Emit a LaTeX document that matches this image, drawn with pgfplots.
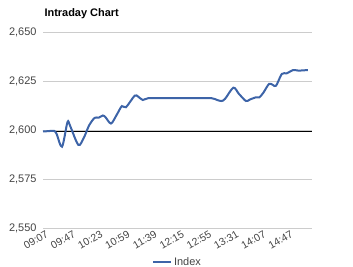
\documentclass[border=0pt]{standalone}
\usepackage{pgfplots}
\pgfplotsset{compat=1.18}
\usepackage{fontspec}
\setmainfont{Liberation Sans}
\definecolor{lineblue}{HTML}{3D64A8}
\definecolor{gridgray}{HTML}{CCCCCC}
\definecolor{ticktext}{HTML}{444444}
\begin{document}
\begin{tikzpicture}
\path[use as bounding box] (0,0) rectangle (353bp,267bp);
\begin{axis}[
  at={(43bp,39bp)}, anchor=south west,
  scale only axis, width=269bp, height=196bp,
  xmin=0, xmax=98.9, ymin=2550, ymax=2650,
  axis line style={draw=none},
  tick style={draw=none},
  ytick={2550,2575,2600,2625,2650},
  ymajorgrids, grid style={gridgray, line width=0.8pt},
  xtick={0,10,...,90},
  xticklabels={09:07,09:47,10:23,10:59,11:39,12:15,12:55,13:31,14:07,14:47},
  /pgf/number format/assume math mode=true,
  /pgf/number format/1000 sep={,},
  scaled y ticks=false,
  ticklabel style={font=\fontsize{11}{13}\selectfont, text=ticktext},
  yticklabel style={xshift=-3bp},
  xticklabel style={rotate=30, anchor=north east, inner sep=1pt, yshift=-2bp, xshift=2bp, font=\fontsize{10.5}{12}\selectfont},
  title={\textbf{Intraday Chart}},
  title style={at={(axis description cs:0,1)}, anchor=base west, yshift=10bp, xshift=-2bp, font=\fontsize{11}{13}\selectfont},
  legend style={at={(axis description cs:0.5,0)}, anchor=center, yshift=-34bp, draw=none, fill=none, font=\fontsize{11}{13}\selectfont, text=ticktext},
  legend image code/.code={\draw[#1] (0bp,0bp) -- (18bp,0bp);},
  clip=false,
]
\addplot[black, line width=0.9pt, forget plot] coordinates {(0,2599.4) (98.9,2599.4)};
\addplot[lineblue, line width=2bp, smooth, tension=0.5] coordinates {
(0,2599.3) (2,2599.4) (4,2599.6) (5,2598) (7,2591.5) (9,2604) (10,2602)
(13,2592.4) (15,2596) (17,2602.5) (19,2606.2) (20.5,2606.3) (22,2607.4)
(23,2606.5) (25,2603.3) (27,2607.5) (29,2612.2) (30.5,2611.6) (33.7,2617.5)
(35,2617) (36.7,2615.3) (38.6,2616.2) (45,2616.2) (55,2616.2) (62,2616.2)
(64,2615.3) (65.7,2614.8) (67,2616) (70,2621.6) (72,2618.5) (74.6,2614.8)
(76,2615.5) (78.3,2616.7) (79.5,2616.6) (81,2619) (83.1,2623.5) (84.5,2623)
(85.7,2622.6) (87.8,2628.6) (89.6,2628.9) (92,2630.6) (93.9,2630.3) (97.4,2630.6)
};
\addlegendentry{Index}
\end{axis}
\end{tikzpicture}
\end{document}
